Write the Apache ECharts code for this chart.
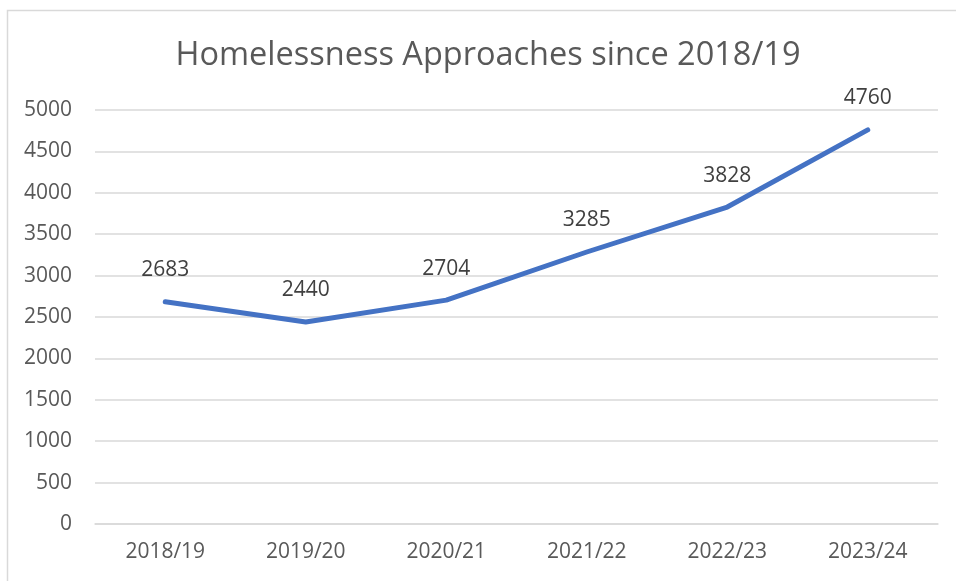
<!DOCTYPE html>
<html><head><meta charset="utf-8">
<script src="https://cdn.jsdelivr.net/npm/echarts@6/dist/echarts.min.js"></script>
<style>html,body{margin:0;padding:0;background:#fff}#c{width:956px;height:581px}</style>
</head><body><div id="c"></div>
<script>
const categories = ['2018/19','2019/20','2020/21','2021/22','2022/23','2023/24'];
const approaches = [2683, 2440, 2704, 3285, 3828, 4760];
const yMin = 0, yMax = 5000, yStep = 500;
const titleText = 'Homelessness Approaches since 2018/19';

const chart = echarts.init(document.getElementById('c'), null, {renderer:'canvas'});
const font = '"Open Sans", "Noto Sans", sans-serif';
chart.setOption({
  animation:false,
  backgroundColor:'#fff',
  graphic:[{type:'rect', shape:{x:7.5,y:10.5,width:960,height:600}, style:{fill:'none', stroke:'#d9d9d9', lineWidth:1.5}, silent:true}],
  title:{text:titleText, left:483, textAlign:'center', top:34, textStyle:{fontFamily:font, fontSize:32.5, fontWeight:'normal', color:'#595959'}},
  grid:{left:95, right:18, top:110, bottom:57},
  xAxis:{type:'category', data:categories, boundaryGap:true,
    axisLine:{show:true, lineStyle:{color:'#d9d9d9', width:1.5}}, axisTick:{show:false},
    axisLabel:{fontFamily:font, fontSize:21, color:'#595959', margin:18}},
  yAxis:{type:'value', min:yMin, max:yMax, interval:yStep,
    axisLine:{show:false}, axisTick:{show:false},
    splitLine:{lineStyle:{color:'#d9d9d9', width:1.5}},
    axisLabel:{fontFamily:font, fontSize:21, color:'#595959', margin:23, formatter:v => String(v)}},
  series:[{type:'line', data:approaches, showSymbol:true, symbol:'circle', symbolSize:2,
    itemStyle:{color:'rgba(68,114,196,0)', borderWidth:0},
    lineStyle:{color:'#4472C4', width:5, cap:'round', join:'round'},
    label:{show:true, position:'top', distance:20, fontFamily:font, fontSize:21, color:'#404040'}}]
});
</script></body></html>
